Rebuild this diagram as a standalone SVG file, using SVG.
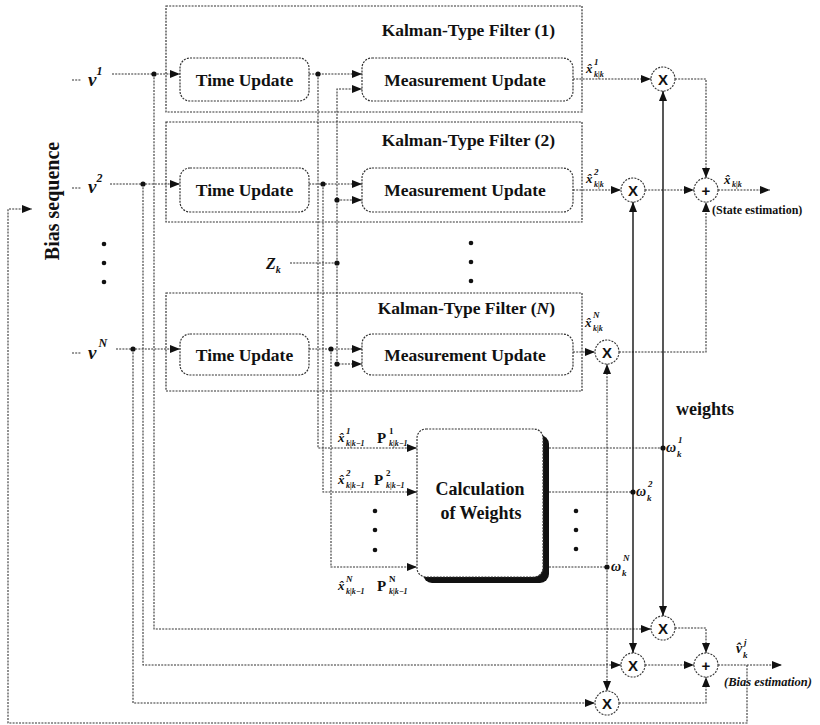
<svg xmlns="http://www.w3.org/2000/svg" width="820" height="725" viewBox="0 0 820 725">
<defs>
<marker id="ah" markerUnits="userSpaceOnUse" markerWidth="10" markerHeight="8" refX="10" refY="4" orient="auto">
<path d="M0,0 L10,4 L0,8 z" fill="#111"/>
</marker>
<style>
.c{fill:none;stroke:#333;stroke-width:1.1;stroke-dasharray:2 1.2}
.a{marker-end:url(#ah)}
.s{fill:none;stroke:#111;stroke-width:1.4}
.box{fill:none;stroke:#333;stroke-width:1.2;stroke-dasharray:2 1.2}
.rbox{fill:#fff;stroke:#333;stroke-width:1.2;stroke-dasharray:2 1.2}
.t{font-family:"Liberation Serif","DejaVu Serif",serif;font-weight:bold;fill:#111}
.m{font-family:"Liberation Serif","DejaVu Serif",serif;font-style:italic;font-weight:bold;fill:#111}
.op{font-family:"Liberation Sans","DejaVu Sans",sans-serif;font-weight:bold;font-size:15px;fill:#111;text-anchor:middle}
.circ{fill:#fff;stroke:#333;stroke-width:1.1;stroke-dasharray:2 1.2}
.dot{fill:#111}
</style>
</defs>
<rect width="820" height="725" fill="#fff"/>

<!-- Filter 1 -->
<g id="filter1">
<rect class="box" x="166" y="6" width="416" height="106"/>
<text class="t" x="555" y="36" font-size="17.5" text-anchor="end">Kalman-Type Filter (1)</text>
</g>
<g id="time-update-1">
<rect class="rbox" x="180" y="58" width="129" height="43" rx="10"/>
<text class="t" x="244.5" y="86" font-size="17.5" text-anchor="middle">Time Update</text>
</g>
<g id="measurement-update-1">
<rect class="rbox" x="362" y="58" width="211" height="43" rx="10"/>
<text class="t" x="465" y="86" font-size="17.5" text-anchor="middle">Measurement Update</text>
</g>

<!-- Filter 2 -->
<g id="filter2">
<rect class="box" x="166" y="122" width="416" height="100"/>
<text class="t" x="555" y="146" font-size="17.5" text-anchor="end">Kalman-Type Filter (2)</text>
</g>
<g id="time-update-2">
<rect class="rbox" x="180" y="168" width="129" height="44" rx="10"/>
<text class="t" x="244.5" y="196" font-size="17.5" text-anchor="middle">Time Update</text>
</g>
<g id="measurement-update-2">
<rect class="rbox" x="362" y="168" width="211" height="44" rx="10"/>
<text class="t" x="465" y="196" font-size="17.5" text-anchor="middle">Measurement Update</text>
</g>

<!-- Filter N -->
<g id="filterN">
<rect class="box" x="166" y="293" width="416" height="98"/>
<text class="t" x="555" y="314" font-size="17.5" text-anchor="end">Kalman-Type Filter (<tspan font-style="italic">N</tspan>)</text>
</g>
<g id="time-update-N">
<rect class="rbox" x="180" y="334" width="129" height="41" rx="10"/>
<text class="t" x="244.5" y="361" font-size="17.5" text-anchor="middle">Time Update</text>
</g>
<g id="measurement-update-N">
<rect class="rbox" x="362" y="334" width="211" height="41" rx="10"/>
<text class="t" x="465" y="361" font-size="17.5" text-anchor="middle">Measurement Update</text>
</g>

<!-- Calculation of weights -->
<g id="calc-weights">
<rect x="423" y="435" width="126" height="148" rx="9" fill="#111"/>
<rect class="rbox" x="417" y="429" width="126" height="148" rx="9"/>
<text class="t" x="480" y="495" font-size="18" text-anchor="middle">Calculation</text>
<text class="t" x="481" y="519" font-size="18" text-anchor="middle">of Weights</text>
</g>

<!-- Connectors -->
<g id="connectors">
<!-- v inputs -->
<path class="c" d="M72,80 H81"/>
<path class="c a" d="M112,74 H180"/>
<path class="c a" d="M154,74 V629 H651"/>
<path class="c" d="M72,188 H81"/>
<path class="c a" d="M110,184 H180"/>
<path class="c a" d="M143,184 V665 H621"/>
<path class="c" d="M72,353 H81"/>
<path class="c a" d="M116,349 H180"/>
<path class="c a" d="M133,349 V703 H595"/>
<!-- time update outputs -->
<path class="c a" d="M309,74 H362"/>
<path class="c a" d="M318,74 V448 H417"/>
<path class="c a" d="M309,184 H362"/>
<path class="c a" d="M323,184 V492 H417"/>
<path class="c a" d="M309,349 H362"/>
<path class="c a" d="M331,349 V567 H417"/>
<!-- measurement Z_k -->
<path class="c" d="M290,263 H337"/>
<path class="c a" d="M337,263 V89 H362"/>
<path class="c a" d="M337,200 H362"/>
<path class="c a" d="M337,263 V364 H362"/>
<!-- measurement update outputs -->
<path class="c a" d="M573,79 H651"/>
<path class="c a" d="M573,190 H621"/>
<path class="c a" d="M573,352 H595"/>
<!-- to state sum -->
<path class="c a" d="M675,79 H706 V178"/>
<path class="c a" d="M645,190 H694"/>
<path class="c a" d="M619,352 H706 V202"/>
<path class="c a" d="M718,190 H770"/>
<!-- weights -->
<path class="s a" d="M663,448 V91"/>
<path class="s a" d="M663,448 V616"/>
<path class="s a" d="M633,492 V202"/>
<path class="s a" d="M633,492 V653"/>
<path class="c a" d="M607,567 V364"/>
<path class="c a" d="M607,567 V691"/>
<path class="c" d="M549,448 H663"/>
<path class="c" d="M549,492 H633"/>
<path class="c" d="M549,567 H607"/>
<!-- bias sum -->
<path class="c a" d="M675,628 H706 V653"/>
<path class="c a" d="M645,665 H694"/>
<path class="c a" d="M619,703 H706 V677"/>
<path class="c a" d="M718,665 H782"/>
<!-- feedback -->
<path class="c a" d="M747,665 V723 H8 V209 H32"/>
<!-- junction dots -->
<circle class="dot" cx="154" cy="74" r="2.6"/>
<circle class="dot" cx="143" cy="184" r="2.6"/>
<circle class="dot" cx="133" cy="349" r="2.6"/>
<circle class="dot" cx="318" cy="74" r="2.6"/>
<circle class="dot" cx="323" cy="184" r="2.6"/>
<circle class="dot" cx="331" cy="349" r="2.6"/>
<circle class="dot" cx="337" cy="263" r="2.6"/>
<circle class="dot" cx="337" cy="200" r="2.6"/>
<circle class="dot" cx="337" cy="364" r="2.6"/>
<circle class="dot" cx="663" cy="448" r="2.6"/>
<circle class="dot" cx="633" cy="492" r="2.6"/>
<circle class="dot" cx="607" cy="567" r="2.6"/>
</g>

<!-- Operator nodes -->
<g id="mul-f1"><circle class="circ" cx="663" cy="79" r="12"/><text class="op" x="663" y="84.5">X</text></g>
<g id="mul-f2"><circle class="circ" cx="633" cy="190" r="12"/><text class="op" x="633" y="195.5">X</text></g>
<g id="mul-fN"><circle class="circ" cx="607" cy="352" r="12"/><text class="op" x="607" y="357.5">X</text></g>
<g id="sum-state"><circle class="circ" cx="706" cy="190" r="12"/><text class="op" x="706" y="195.5" font-size="17">+</text></g>
<g id="mul-b1"><circle class="circ" cx="663" cy="628" r="12"/><text class="op" x="663" y="633.5">X</text></g>
<g id="mul-b2"><circle class="circ" cx="633" cy="665" r="12"/><text class="op" x="633" y="670.5">X</text></g>
<g id="mul-b3"><circle class="circ" cx="607" cy="703" r="12"/><text class="op" x="607" y="708.5">X</text></g>
<g id="sum-bias"><circle class="circ" cx="706" cy="665" r="12"/><text class="op" x="706" y="670.5" font-size="17">+</text></g>

<!-- Labels -->
<g id="labels">
<text class="t" transform="translate(59,201) rotate(-90)" font-size="20" text-anchor="middle">Bias sequence</text>
<text class="m" x="88" y="86" font-size="19">v<tspan dy="-11" font-size="12">1</tspan></text>
<text class="m" x="88" y="193" font-size="19">v<tspan dy="-11" font-size="12">2</tspan></text>
<text class="m" x="88" y="359" font-size="19">v<tspan dx="2" dy="-12" font-size="12">N</tspan></text>
<text class="m" x="266" y="269" font-size="16">Z<tspan dy="4" font-size="10">k</tspan></text>
<circle class="dot" cx="104" cy="244" r="2.3"/><circle class="dot" cx="104" cy="263" r="2.3"/><circle class="dot" cx="104" cy="282" r="2.3"/>
<circle class="dot" cx="471" cy="243" r="2.3"/><circle class="dot" cx="471" cy="262" r="2.3"/><circle class="dot" cx="471" cy="281" r="2.3"/>
<circle class="dot" cx="375" cy="511" r="2.3"/><circle class="dot" cx="375" cy="530" r="2.3"/><circle class="dot" cx="375" cy="550" r="2.3"/>
<circle class="dot" cx="576" cy="511" r="2.3"/><circle class="dot" cx="576" cy="530" r="2.3"/><circle class="dot" cx="576" cy="549" r="2.3"/>

<text class="m" x="586" y="73" font-size="13">x&#x302;<tspan x="594" y="65" font-size="9">1</tspan><tspan x="594" y="77" font-size="8">k|k</tspan></text>
<text class="m" x="586" y="183" font-size="13">x&#x302;<tspan x="594" y="175" font-size="9">2</tspan><tspan x="594" y="187" font-size="8">k|k</tspan></text>
<text class="m" x="585" y="327" font-size="13">x&#x302;<tspan x="593" y="318" font-size="9">N</tspan><tspan x="593" y="331" font-size="8">k|k</tspan></text>
<text class="m" x="724" y="184" font-size="13">x&#x302;<tspan x="732" y="187" font-size="8">k|k</tspan></text>
<text class="t" x="712" y="214" font-size="12">(State estimation)</text>
<text class="m" x="736" y="653" font-size="14">v&#x302;<tspan x="744" y="645" font-size="9">j</tspan><tspan x="743" y="658" font-size="9">k</tspan></text>
<text class="m" x="724" y="686" font-size="12.5">(Bias estimation)</text>

<text class="m" x="338" y="442" font-size="13">x&#x302;<tspan x="346" y="434" font-size="9">1</tspan><tspan x="346" y="446" font-size="8">k|k−1</tspan></text>
<text class="t" x="377" y="443" font-size="15">P<tspan x="389" y="434" font-size="9">1</tspan><tspan x="389" y="446" font-size="8" font-style="italic">k|k−1</tspan></text>
<text class="m" x="338" y="484" font-size="13">x&#x302;<tspan x="346" y="476" font-size="9">2</tspan><tspan x="346" y="488" font-size="8">k|k−1</tspan></text>
<text class="t" x="374" y="485" font-size="15">P<tspan x="386" y="476" font-size="9">2</tspan><tspan x="386" y="488" font-size="8" font-style="italic">k|k−1</tspan></text>
<text class="m" x="338" y="590" font-size="13">x&#x302;<tspan x="346" y="582" font-size="9">N</tspan><tspan x="346" y="594" font-size="8">k|k−1</tspan></text>
<text class="t" x="377" y="591" font-size="15">P<tspan x="389" y="582" font-size="9">N</tspan><tspan x="389" y="594" font-size="8" font-style="italic">k|k−1</tspan></text>

<text class="t" x="676" y="415" font-size="18">weights</text>
<text class="m" x="666" y="452" font-size="14">ω<tspan x="678" y="443" font-size="9">1</tspan><tspan x="677" y="457" font-size="9">k</tspan></text>
<text class="m" x="636" y="496" font-size="14">ω<tspan x="648" y="487" font-size="9">2</tspan><tspan x="647" y="501" font-size="9">k</tspan></text>
<text class="m" x="611" y="571" font-size="14">ω<tspan x="623" y="561" font-size="9">N</tspan><tspan x="622" y="576" font-size="9">k</tspan></text>
</g>
</svg>
